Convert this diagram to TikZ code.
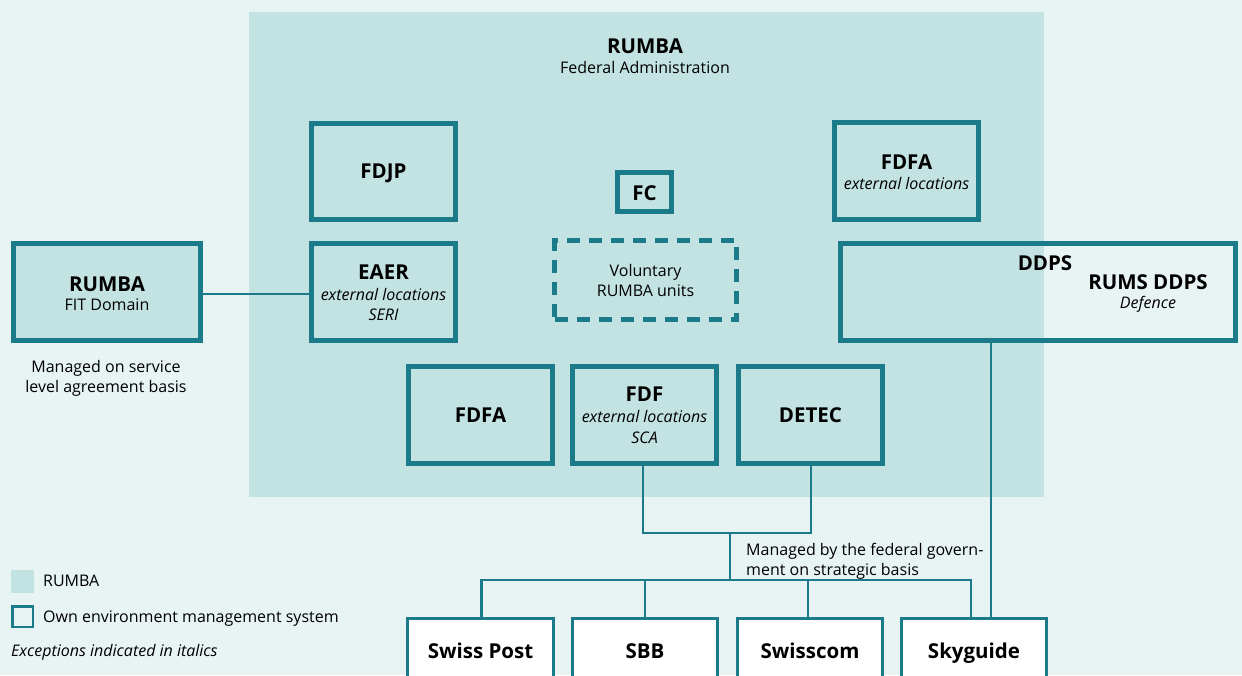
\documentclass[tikz,border=0pt]{standalone}
\usepackage{fontspec}
\setmainfont{Open Sans}
\definecolor{bg}{HTML}{E8F4F3}
\definecolor{rumba}{HTML}{C2E3E1}
\definecolor{tealc}{HTML}{1B7B8B}
\tikzset{
  thickbox/.style={draw=tealc, line width=5pt, inner sep=0pt},
  thinbox/.style={draw=tealc, line width=3pt, inner sep=0pt, fill=white},
  conn/.style={draw=tealc, line width=2.5pt},
  bigl/.style={font=\fontsize{20.5}{24}\selectfont\bfseries, inner sep=0pt, text height=14.6pt, text depth=0pt},
  smalll/.style={font=\fontsize{16}{20}\selectfont, inner sep=0pt, text height=11.4pt, text depth=0pt},
  itl/.style={font=\fontsize{16}{20}\selectfont\itshape, inner sep=0pt, text height=11.4pt, text depth=0pt},
}
\begin{document}
\begin{tikzpicture}[x=1pt,y=-1pt]
\useasboundingbox (0,0) rectangle (1242,675);
\clip (0,0) rectangle (1242,675);
\fill[bg] (0,0) rectangle (1242,675);
% RUMBA federal administration area
\node[fill=rumba, minimum width=795pt, minimum height=485pt, inner sep=0pt, anchor=north west] (fed) at (249,12) {};
\node[bigl] (fedt) at (645,46) {RUMBA};
\node[smalll] (feds) at (645,68) {Federal Administration};

% boxes in RUMBA area
\node[thickbox, minimum width=144pt, minimum height=96pt] (fdjp) at (383.5,171.5) {};
\node[bigl] (fdjpt) at (383.5,171) {FDJP};

\node[thickbox, minimum width=54pt, minimum height=39pt] (fc) at (644.5,192) {};
\node[bigl] (fct) at (644.5,193) {FC};

\node[thickbox, minimum width=144pt, minimum height=97pt] (fdfa1) at (906.5,171) {};
\node[bigl] (fdfa1t) at (906.5,162) {FDFA};
\node[itl] (fdfa1s) at (906.5,184) {external locations};

\node[thickbox, fill=rumba, minimum width=187pt, minimum height=97pt] (fit) at (107,292) {};
\node[bigl] (fitt) at (107,284) {RUMBA};
\node[smalll] (fits) at (107,305) {FIT Domain};
\node[smalll, align=center] (slat) at (106,387) {Managed on service\\level agreement basis};

\node[thickbox, minimum width=144pt, minimum height=97pt] (eaer) at (383.5,292) {};
\node[bigl] (eaert) at (383.5,272) {EAER};
\node[itl] (eaers) at (383.5,295) {external locations};
\node[itl] (eaers2) at (383.5,315) {SERI};

\node[draw=tealc, line width=5pt, dash pattern=on 13pt off 9pt, minimum width=182pt, minimum height=79pt, inner sep=0pt] (vol) at (645.5,280) {};
\node[smalll, align=center] (volt) at (645.5,291) {Voluntary\\RUMBA units};

\node[thickbox, minimum width=395pt, minimum height=97pt] (ddps) at (1038,292) {};
\node[bigl] (ddpst) at (1045,263) {DDPS};
\node[bigl] (rums) at (1148,282) {RUMS DDPS};
\node[itl] (def) at (1148,303) {Defence};

\node[thickbox, minimum width=144pt, minimum height=97pt] (fdfa2) at (480.5,415) {};
\node[bigl] (fdfa2t) at (480.5,415) {FDFA};

\node[thickbox, minimum width=144pt, minimum height=97pt] (fdf) at (644.5,415) {};
\node[bigl] (fdft) at (644.5,394) {FDF};
\node[itl] (fdfs) at (644.5,417) {external locations};
\node[itl] (fdfs2) at (644.5,438) {SCA};

\node[thickbox, minimum width=144pt, minimum height=97pt] (detec) at (810.5,415) {};
\node[bigl] (detect) at (810.5,415) {DETEC};

% bottom companies
\node[thinbox, minimum width=146pt, minimum height=90pt, anchor=north] (post) at (480.5,616.5) {};
\node[bigl] (postt) at (480.5,651) {Swiss Post};
\node[thinbox, minimum width=145pt, minimum height=90pt, anchor=north] (sbb) at (645,616.5) {};
\node[bigl] (sbbt) at (645,651) {SBB};
\node[thinbox, minimum width=145pt, minimum height=90pt, anchor=north] (scom) at (810,616.5) {};
\node[bigl] (scomt) at (810,651) {Swisscom};
\node[thinbox, minimum width=145pt, minimum height=90pt, anchor=north] (sky) at (974,616.5) {};
\node[bigl] (skyt) at (974,651) {Skyguide};

% connectors
\draw[conn] (fit.east |- 0,294) -- (eaer.west |- 0,294);
\coordinate (j1) at (730,533);
\coordinate (j2) at (730,580);
\draw[conn] ([xshift=-1.5pt]fdf.south) |- (j1) -| ([xshift=0.5pt]detec.south);
\draw[conn] (j1) -- (j2);
\draw[conn] ([xshift=1pt]post.north) |- (j2);
\draw[conn] (j2) -| ([xshift=-3pt]sky.north);
\draw[conn] (sbb.north) -- (sbb.north |- j2);
\draw[conn] ([xshift=-2pt]scom.north) -- ([xshift=-2pt]scom.north |- j2);
\draw[conn] ([xshift=-47pt]ddps.south) -- ([xshift=17pt]sky.north);
\node[smalll, align=left, anchor=west] (fedgov) at (746,570) {Managed by the federal govern-\\ment on strategic basis};

% legend
\node[fill=rumba, minimum width=23pt, minimum height=23pt, inner sep=0pt] (leg1) at (22.5,581.5) {};
\node[smalll, anchor=west] (leg1t) at (43,581) {RUMBA};
\node[draw=tealc, line width=2.5pt, minimum width=20.5pt, minimum height=20.5pt, inner sep=0pt] (leg2) at (22.5,616.5) {};
\node[smalll, anchor=west] (leg2t) at (43,616.5) {Own environment management system};
\node[itl, anchor=west] (leg3) at (11,650.5) {Exceptions indicated in italics};
\end{tikzpicture}
\end{document}
